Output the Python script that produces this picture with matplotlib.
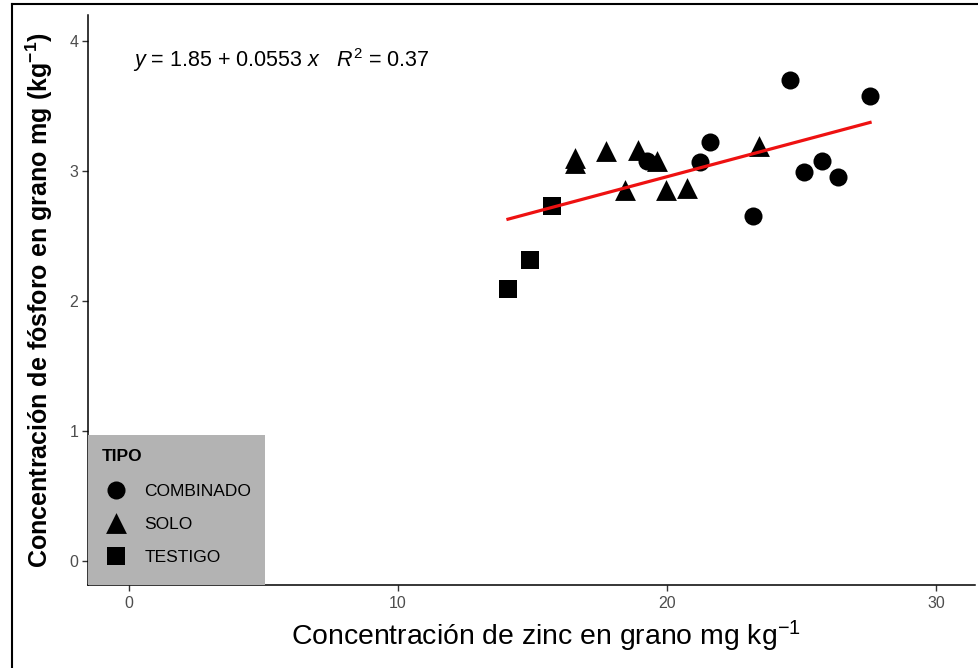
import numpy as np
import matplotlib
matplotlib.use('Agg')
import matplotlib.pyplot as plt
from matplotlib.lines import Line2D

plt.rcParams['font.family'] = ['Liberation Sans', 'DejaVu Sans']
plt.rcParams['mathtext.fontset'] = 'custom'
plt.rcParams['mathtext.rm'] = 'Liberation Sans'
plt.rcParams['mathtext.it'] = 'Liberation Sans:italic'
plt.rcParams['mathtext.bf'] = 'Liberation Sans:bold'

# zinc (x) and phosphorus (y) per treatment type
combinado_zn = [24.57, 27.55, 21.60, 21.23, 19.26, 25.09, 25.76, 26.36, 23.20]
combinado_p = [3.70, 3.58, 3.22, 3.07, 3.08, 2.99, 3.08, 2.95, 2.65]
solo_zn = [16.58, 16.58, 17.73, 18.92, 19.63, 18.44, 19.96, 20.74, 23.42]
solo_p = [3.06, 3.10, 3.15, 3.16, 3.08, 2.85, 2.85, 2.87, 3.19]
testigo_zn = [14.09, 14.91, 15.72]
testigo_p = [2.09, 2.315, 2.73]

intercept = 1.85
slope = 0.0553
r2 = 0.37

fig = plt.figure(figsize=(9.79, 6.68), dpi=100)
ax = fig.add_axes([88/979, 1-585/668, (975-88)/979, (585-15)/668])

ax.scatter(combinado_zn, combinado_p, marker='o', s=13**2, color='black', linewidths=0, label='COMBINADO', zorder=3)
ax.scatter(solo_zn, solo_p, marker='^', s=15**2, color='black', linewidths=0, label='SOLO', zorder=3)
ax.scatter(testigo_zn, testigo_p, marker='s', s=13**2, color='black', linewidths=0, label='TESTIGO', zorder=3)

all_x = np.array(combinado_zn + solo_zn + testigo_zn)
xs = np.array([all_x.min(), all_x.max()])
ax.plot(xs, intercept + slope * xs, color='#ee1111', linewidth=2.3, zorder=4)

ax.text(0.15, 3.85, r'$y$ = 1.85 + 0.0553 $x$   $R^2$ = 0.37', fontsize=15.5, va='center', ha='left')

ax.set_xlim(-1.52, 31.45)
ax.set_ylim(-0.185, 4.2)
ax.set_xticks([0, 10, 20, 30])
ax.set_yticks([0, 1, 2, 3, 4])
ax.tick_params(axis='both', length=4, width=1, color='#333333', labelcolor='#4d4d4d', labelsize=11.5)
ax.tick_params(axis='x', pad=4)
ax.tick_params(axis='y', pad=3)

for side in ['top', 'right']:
    ax.spines[side].set_visible(False)
for side in ['left', 'bottom']:
    ax.spines[side].set_linewidth(1.1)
    ax.spines[side].set_color('black')

ax.set_xlabel(r'Concentración de zinc en grano mg kg$^{-1}$', fontsize=20.4, labelpad=8)
ax.xaxis.set_label_coords(0.516, -0.06, transform=ax.transAxes)
ax.xaxis.label.set_va('top')
ax.set_ylabel(r'Concentración de fósforo en grano mg (kg$^{\mathbf{-1}}$)', fontsize=18, fontweight='bold', labelpad=10)

leg = ax.legend(title='TIPO', loc='lower left', bbox_to_anchor=(0, 0), borderaxespad=0,
                fontsize=12.5, title_fontproperties={'weight': 'bold', 'size': 12.5},
                facecolor='#b3b3b3', edgecolor='none', framealpha=1, fancybox=False,
                borderpad=0.8, labelspacing=0.27, handlelength=1.6, handleheight=2.13,
                handletextpad=0.85, alignment='left', scatteryoffsets=[0.23])
leg._legend_box.sep = 9.5  # extra gap under the title
leg.set_zorder(5)

fig.add_artist(Line2D([12/979, 12/979], [0, 1-4/668], color='black', linewidth=1.5))
fig.add_artist(Line2D([12/979, 1], [1-4/668, 1-4/668], color='black', linewidth=1.5))

fig.savefig('out.png', dpi=100)
